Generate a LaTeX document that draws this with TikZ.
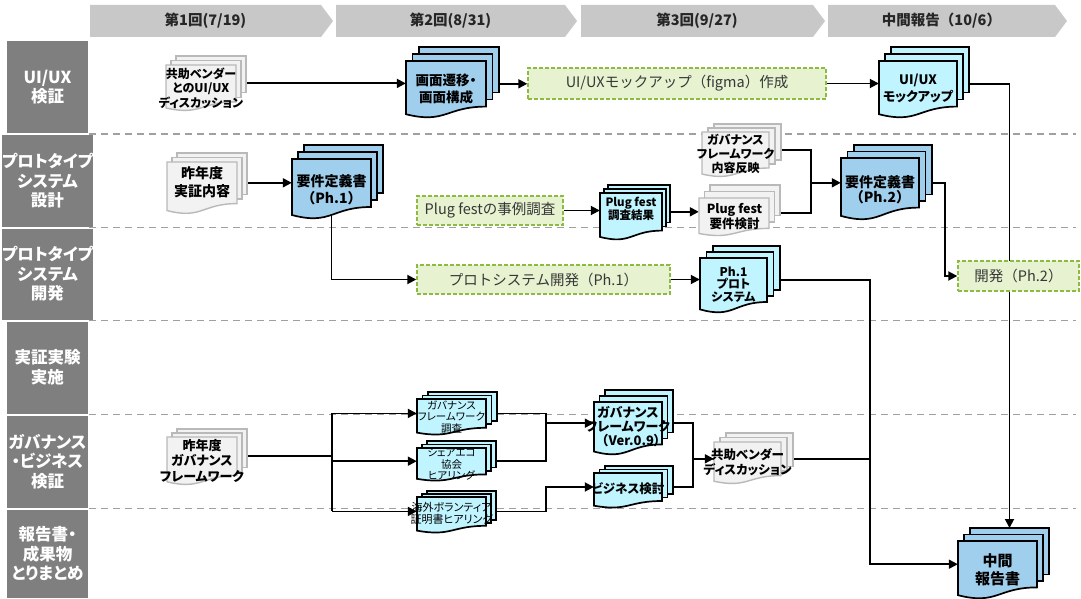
\documentclass[tikz,border=0pt]{standalone}
\usepackage{fontspec}
\setmainfont{Noto Sans CJK JP}[RawFeature=+palt]
\newfontfamily\widejp{Noto Sans CJK JP}
\usetikzlibrary{arrows.meta}

\definecolor{headgray}{RGB}{200,200,200}
\definecolor{headtext}{RGB}{38,38,38}
\definecolor{rowgray}{RGB}{127,127,127}
\definecolor{sepgray}{RGB}{160,160,160}
\definecolor{docblue}{RGB}{160,207,238}
\definecolor{doccyan}{RGB}{192,244,255}
\definecolor{docgray}{RGB}{242,242,242}
\definecolor{docgrayline}{RGB}{185,185,185}
\definecolor{taskfill}{RGB}{230,242,208}
\definecolor{taskline}{RGB}{141,186,64}
\definecolor{tasktext}{RGB}{55,55,55}

\pgfdeclarelayer{back}
\pgfdeclarelayer{links}
\pgfsetlayers{back,links,main}

\newcommand\fsz[2]{\fontsize{#1}{#2}\selectfont}

% stacked document: name, style, left, top, width, height, dx, dy
\newcommand\dstack[8]{%
  \path[#2] ({#3+2*#7},{#4-2*#8}) rectangle ({#3+#5+2*#7},{#4+0.8*#6-2*#8});
  \path[#2] ({#3+#7},{#4-#8}) rectangle ({#3+#5+#7},{#4+0.8*#6-#8});
  \path[#2] (#3,#4) -- ({#3+#5},#4) -- ({#3+#5},{#4+0.8*#6})
     .. controls ({#3+0.5*#5},{#4+0.8*#6}) and ({#3+0.5*#5},{#4+1.108*#6}) ..
     (#3,{#4+0.934*#6}) -- cycle;
  \node[docbase, minimum width=#5, minimum height={0.8*#6}] (#1) at ({#3+0.5*#5},{#4+0.4*#6}) {};
  \coordinate (#1-e) at ({#3+#5+2*#7},{#4+0.4*#6});
  \coordinate (#1-n) at ({#3+0.5*#5+2*#7},{#4-2*#8});
}

% phase arrow in the header: name, left, tip, text
\newcommand\phase[4]{%
  \fill[headgray] (#2,5) -- ({#3-12},5) -- (#3,21) -- ({#3-12},37) -- (#2,37) -- cycle;
  \node[headlabel] (#1) at ({(#2+#3-12)/2},21) {#4};
}

\begin{document}
\begin{tikzpicture}[x=1pt,y=-1pt,
  docbase/.style={inner sep=0pt, draw=none},
  bluedoc/.style={fill=docblue, draw=black, line width=1.7pt, line join=miter},
  cyandoc/.style={fill=doccyan, draw=black, line width=1.7pt, line join=miter},
  graydoc/.style={fill=docgray, draw=docgrayline, line width=1.4pt},
  doctext/.style={align=center, inner sep=0pt, text=black, font=\bfseries\fsz{13}{17}},
  taskbox/.style={draw=taskline, fill=taskfill, dash pattern=on 4pt off 2pt, line width=1.4pt,
    inner sep=0pt, text=tasktext, font=\widejp\fsz{14.5}{16}},
  headlabel/.style={text=headtext, font=\widejp\bfseries\fsz{14.5}{16}, inner sep=0pt},
  rowbox/.style={fill=rowgray, text=white, minimum width=81, inner sep=0pt, align=center,
    font=\bfseries\fsz{16.5}{19.5}},
  sepline/.style={draw=sepgray, line width=1.8pt, dash pattern=on 7pt off 5pt},
  ln/.style={draw=black, line width=1.8pt},
  arr/.style={draw=black, line width=1.8pt, -{Triangle[length=9pt,width=9pt]}},
]
\useasboundingbox (0,0) rectangle (1081,599);

% header phases
\phase{ph-a}{90}{333}{第1回(7/19)}
\phase{ph-b}{336}{577}{第2回(8/31)}
\phase{ph-c}{581}{825}{第3回(9/27)}
\phase{ph-d}{828}{1067}{中間報告（10/6）}

% row headers
\node[rowbox, minimum height=92.3] (row1) at (47.5,87.15) {UI/UX\\検証};
\node[rowbox, minimum height=91.2] (row2) at (47.5,180.9) {プロトタイプ\\システム\\設計};
\node[rowbox, minimum height=91] (row3) at (47.5,274) {プロトタイプ\\システム\\開発};
\node[rowbox, minimum height=92] (row4) at (47.5,367.5) {実証実験\\実施};
\node[rowbox, minimum height=92] (row5) at (47.5,461.5) {ガバナンス\\・ビジネス\\検証};
\node[rowbox, minimum height=88.5] (row6) at (47.5,553.75) {報告書・\\成果物\\とりまとめ};

% lane separators
\begin{pgfonlayer}{back}
\foreach \yy in {134.3,227.5,320.5,414.5,508.5}
  \draw[sepline] (89,\yy) -- (1076,\yy);
\end{pgfonlayer}

% documents
\dstack{vendUI}{graydoc}{166}{65}{70}{46}{5}{4.5}
\node[doctext, font=\bfseries\fsz{12}{14.5}] (vendUI-t) at (201,88) {共助ベンダー\\とのUI/UX\\ディスカッション};

\dstack{gamen}{bluedoc}{406}{61}{80}{57}{6.5}{7}
\node[doctext, font=\bfseries\fsz{13.5}{17}] (gamen-t) at (446,88.5) {画面遷移・\\画面構成};

\dstack{mock}{cyandoc}{879}{61}{78}{57}{6}{7}
\node[doctext, font=\bfseries\fsz{13}{16.5}] (mock-t) at (918,88.5) {UI/UX\\モックアップ};

\dstack{sak1}{graydoc}{167}{162}{70}{52}{5}{4.5}
\node[doctext, font=\bfseries\fsz{14}{17.5}] (sak1-t) at (202,182) {昨年度\\実証内容};

\dstack{req1}{bluedoc}{292}{159}{79}{60}{6}{7}
\node[doctext, font=\widejp\bfseries\fsz{14}{17}] (req1-t) at (331.5,189.5) {要件定義書\\（Ph.1）};

\dstack{plugres}{cyandoc}{600}{193}{62}{47}{4}{4}
\node[doctext, font=\bfseries\fsz{11.5}{13}] (plugres-t) at (631,208.5) {Plug fest\\調査結果};

\dstack{plugchk}{graydoc}{699}{198}{70}{38}{5.5}{6.5}
\node[doctext, font=\bfseries\fsz{12.5}{13.5}] (plugchk-t) at (734.5,216.5) {Plug fest\\要件検討};

\dstack{govref}{graydoc}{702}{132}{67}{45}{6}{4}
\node[doctext, font=\bfseries\fsz{12}{14}] (govref-t) at (735.5,154) {ガバナンス\\フレームワーク\\内容反映};

\dstack{req2}{bluedoc}{841}{158}{78}{62}{6.5}{6.5}
\node[doctext, font=\widejp\bfseries\fsz{14}{15.5}] (req2-t) at (880,189.5) {要件定義書\\（Ph.2）};

\dstack{ph1}{cyandoc}{700}{258}{67}{55}{6.5}{6}
\node[doctext, font=\bfseries\fsz{12}{12.5}] (ph1-t) at (733.5,284.5) {Ph.1\\プロト\\システム};

\dstack{sak2}{graydoc}{167}{437}{70}{48}{5}{4}
\node[doctext, font=\bfseries\fsz{13}{15.5}] (sak2-t) at (202,460.5) {昨年度\\ガバナンス\\フレームワーク};

\dstack{govsv}{cyandoc}{417}{399}{69}{36}{5.5}{3.5}
\node[doctext, font=\fsz{10.5}{11.5}] (govsv-t) at (451.5,417) {ガバナンス\\フレームワーク\\調査};

\dstack{share}{cyandoc}{417}{448}{69}{33}{5}{3.5}
\node[doctext, font=\fsz{10.5}{11.5}] (share-t) at (451.5,464.5) {シェアエコ\\協会\\ヒアリング};

\dstack{ovs}{cyandoc}{417}{497}{69}{36}{5}{3}
\node[doctext, font=\fsz{11}{11.5}] (ovs-t) at (451.5,513.5) {海外ボランティア\\証明書ヒアリング};

\dstack{gov09}{cyandoc}{594}{402}{68}{53}{5.5}{6}
\node[doctext, font=\bfseries\fsz{13}{14}] (gov09-t) at (628,427) {ガバナンス\\フレームワーク\\{\widejp（}Ver.0.9）};

\dstack{biz}{cyandoc}{594}{473}{68}{35}{5.5}{3.5}
\node[doctext, font=\bfseries\fsz{12.5}{14}] (biz-t) at (628,489) {ビジネス検討};

\dstack{kyo2}{graydoc}{714}{442}{67}{42}{6}{4.5}
\node[doctext, font=\bfseries\fsz{12.5}{15}] (kyo2-t) at (747.5,462.5) {共助ベンダー\\ディスカッション};

\dstack{chukan}{bluedoc}{958}{541}{79}{58}{6}{6.5}
\node[doctext, font=\bfseries\fsz{15}{18}] (chukan-t) at (997.5,570) {中間\\報告書};

% tasks
\node[taskbox, minimum width=298, minimum height=31] (g1) at (677,83.5) {UI/UXモックアップ（figma）作成};
\node[taskbox, minimum width=146, minimum height=29] (g2) at (490,210.5) {Plug festの事例調査};
\node[taskbox, minimum width=253, minimum height=29] (g3) at (543.5,279.5) {プロトシステム開発（Ph.1）};
\node[taskbox, minimum width=121, minimum height=30] (dev2) at (1018.5,276) {開発（Ph.2）};

% routing columns
\coordinate (jr) at (811,0);
\coordinate (jd) at (945,0);
\coordinate (jp) at (870,0);
\coordinate (jg) at (332,0);
\coordinate (jh) at (546,0);
\coordinate (jk) at (693,0);

% connectors
\begin{pgfonlayer}{links}
\draw[arr] (vendUI-e) -- (vendUI-e -| gamen.west);
\draw[arr] (gamen-e) -- (gamen-e -| g1.west);
\draw[arr] (g1.east) -- (g1.east -| mock.west);
\draw[arr] (mock-e) -| (chukan-n);
\draw[arr] (sak1-e) -- (sak1-e -| req1.west);
\draw[arr] (req1.south) |- (g3.west);
\draw[arr] (g2.east) -- (g2.east -| plugres.west);
\draw[arr] (plugres-e) -- (plugres-e -| plugchk.west);
\draw[ln] (govref-e) -| (jr |- plugchk-e) -- (plugchk-e);
\draw[arr] (jr |- req2) -- (req2.west);
\draw[arr] (req2-e) -| (jd |- dev2) -- (dev2.west);
\draw[arr] (g3.east) -- (g3.east -| ph1.west);
\draw[arr] (ph1-e) -| (jp |- chukan) -- (chukan.west);
\draw[ln] (kyo2-e) -- (kyo2-e -| jp);
\draw[ln] (sak2-e) -- (sak2-e -| jg);
\draw[ln] (jg |- govsv) -- (jg |- ovs);
\draw[arr] (jg |- govsv) -- (govsv.west);
\draw[arr] (jg |- share) -- (share.west);
\draw[arr] (jg |- ovs) -- (ovs.west);
\draw[ln] (govsv-e) -| (jh |- share-e) -- (share-e);
\draw[arr] (jh |- gov09) -- (gov09.west);
\draw[arr] (ovs-e) -| (jh |- biz) -- (biz.west);
\draw[ln] (gov09-e) -| (jk |- biz-e) -- (biz-e);
\draw[arr] (jk |- kyo2) -- (kyo2.west);
\end{pgfonlayer}
\end{tikzpicture}
\end{document}
